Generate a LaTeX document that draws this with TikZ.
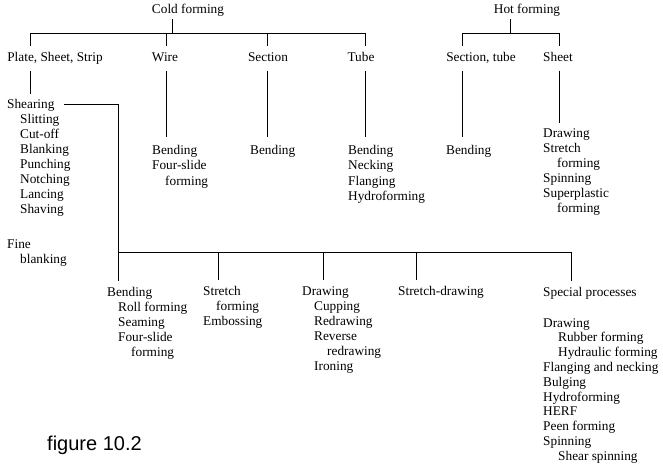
\documentclass[tikz,border=0pt]{standalone}
\usepackage{fontspec}
\setmainfont{Liberation Serif}
\newfontfamily\figfont{Liberation Sans}
\newcommand\rows[1]{\begin{tabular}[t]{@{}l@{}}#1\end{tabular}}
\newcommand\indt[1][13]{\hspace*{#1pt}}
\begin{document}
\begin{tikzpicture}[x=1pt,y=-1pt,
  every node/.style={font=\fontsize{13.3}{15}\selectfont, text=black},
  cat/.style={anchor=base, inner xsep=0pt, inner ysep=6pt, text height=9pt, text depth=3pt},
  lst/.style={anchor=base west, inner xsep=0pt, inner ysep=4pt},
  conn/.style={line width=0.8pt, draw=black},
  gap/.style={shorten >=3.5pt}
]
\useasboundingbox[fill=white] (0,0) rectangle (663,465);

% headers
\node[anchor=base, inner sep=2pt] (cf) at (188,14) {Cold forming};
\node[anchor=base, inner sep=2pt] (hf) at (527,14) {Hot forming};

% categories
\node[cat] (pss) at (55,61.5) {Plate, Sheet, Strip};
\node[cat] (wire) at (165,61.5) {Wire};
\node[cat] (sec) at (268,61.5) {Section};
\node[cat] (tube) at (361,61.5) {Tube};
\node[cat] (sect) at (481,61.5) {Section, tube};
\node[cat] (sheet) at (558,61.5) {Sheet};

% upper lists
\node[lst] (shearing) at (7,109) {\rows{Shearing}};
\node[lst] (shearl) at (20,124) {\rows{Slitting\\Cut-off\\Blanking\\Punching\\Notching\\Lancing\\Shaving}};
\node[lst] (fine) at (7,248) {\rows{Fine\\\indt blanking}};
\node[lst] (wirel) at (152,155) {\rows{Bending\\Four-slide\\\indt forming}};
\node[lst] (secl) at (250,155) {\rows{Bending}};
\node[lst] (tubel) at (348,155) {\rows{Bending\\Necking\\Flanging\\Hydroforming}};
\node[lst] (sectl) at (446,155) {\rows{Bending}};
\node[lst] (sheetl) at (543,138) {\rows{Drawing\\Stretch\\\indt[14]forming\\Spinning\\Superplastic\\\indt[14]forming}};

% lower lists
\node[lst] (bend) at (107,296) {\rows{Bending\\\indt[11]Roll forming\\\indt[11]Seaming\\\indt[11]Four-slide\\\indt[24]forming}};
\node[lst] (stretch) at (203,295) {\rows{Stretch\\\indt forming\\Embossing}};
\node[lst] (drw) at (302,295) {\rows{Drawing\\\indt[12]Cupping\\\indt[12]Redrawing\\\indt[12]Reverse\\\indt[25]redrawing\\\indt[12]Ironing}};
\node[lst] (sd) at (398,295) {\rows{Stretch-drawing}};
\node[lst] (sp) at (543,296) {\rows{Special processes}};
\node[lst, font=\fontsize{13.3}{14.8}\selectfont] (spl) at (543,327) {\rows{Drawing\\\indt[15]Rubber forming\\\indt[15]Hydraulic forming\\Flanging and necking\\Bulging\\Hydroforming\\HERF\\Peen forming\\Spinning\\\indt[15]Shear spinning}};

\node[anchor=base west, inner sep=0pt, font=\figfont\fontsize{20}{24}\selectfont] (fig) at (47,450) {figure 10.2};

% junction coordinates
\coordinate (cfj) at (172,33);
\coordinate (c1) at (30,33);
\coordinate (cw) at (166,33);
\coordinate (cs) at (267,33);
\coordinate (ct) at (365,33);
\coordinate (hfj) at (510,33);
\coordinate (h1) at (462,33);
\coordinate (h2) at (559,33);
\coordinate (sj) at (118,104);
\coordinate (bj) at (118,252);
\coordinate (b2) at (218,252);
\coordinate (b3) at (323,252);
\coordinate (b4) at (416,252);
\coordinate (b5) at (571,252);

% cold forming tree
\draw[conn] (cf.south -| cfj) -- (cfj);
\draw[conn] (c1) -- (ct);
\draw[conn] (c1) -- (pss.north -| c1);
\draw[conn] (cw) -- (wire.north -| cw);
\draw[conn] (cs) -- (sec.north -| cs);
\draw[conn] (ct) -- (tube.north -| ct);

% hot forming tree
\draw[conn] (hf.south -| hfj) -- (hfj);
\draw[conn] (h1) -- (h2);
\draw[conn] (h1) -- (sect.north -| h1);
\draw[conn] (h2) -- (sheet.north -| h2);

% category to lists
\draw[conn] (pss.south -| c1) -- (shearing.north -| c1);
\draw[conn, gap] (wire.south -| cw) -- (wirel.north -| cw);
\draw[conn, gap] (sec.south -| cs) -- (secl.north -| cs);
\draw[conn, gap] (tube.south -| ct) -- (tubel.north -| ct);
\draw[conn, gap] (sect.south -| h1) -- (sectl.north -| h1);
\draw[conn] (sheet.south -| h2) -- (sheetl.north -| h2);

% shearing branch
\draw[conn] ([shift={(9pt,5pt)}]shearing.base east) -- (sj) -- (bend.north -| sj);
\draw[conn] (bj) -- (b5);
\draw[conn] (b2) -- (stretch.north -| b2);
\draw[conn] (b3) -- (drw.north -| b3);
\draw[conn] (b4) -- (sd.north -| b4);
\draw[conn] (b5) -- (sp.north -| b5);
\end{tikzpicture}
\end{document}
